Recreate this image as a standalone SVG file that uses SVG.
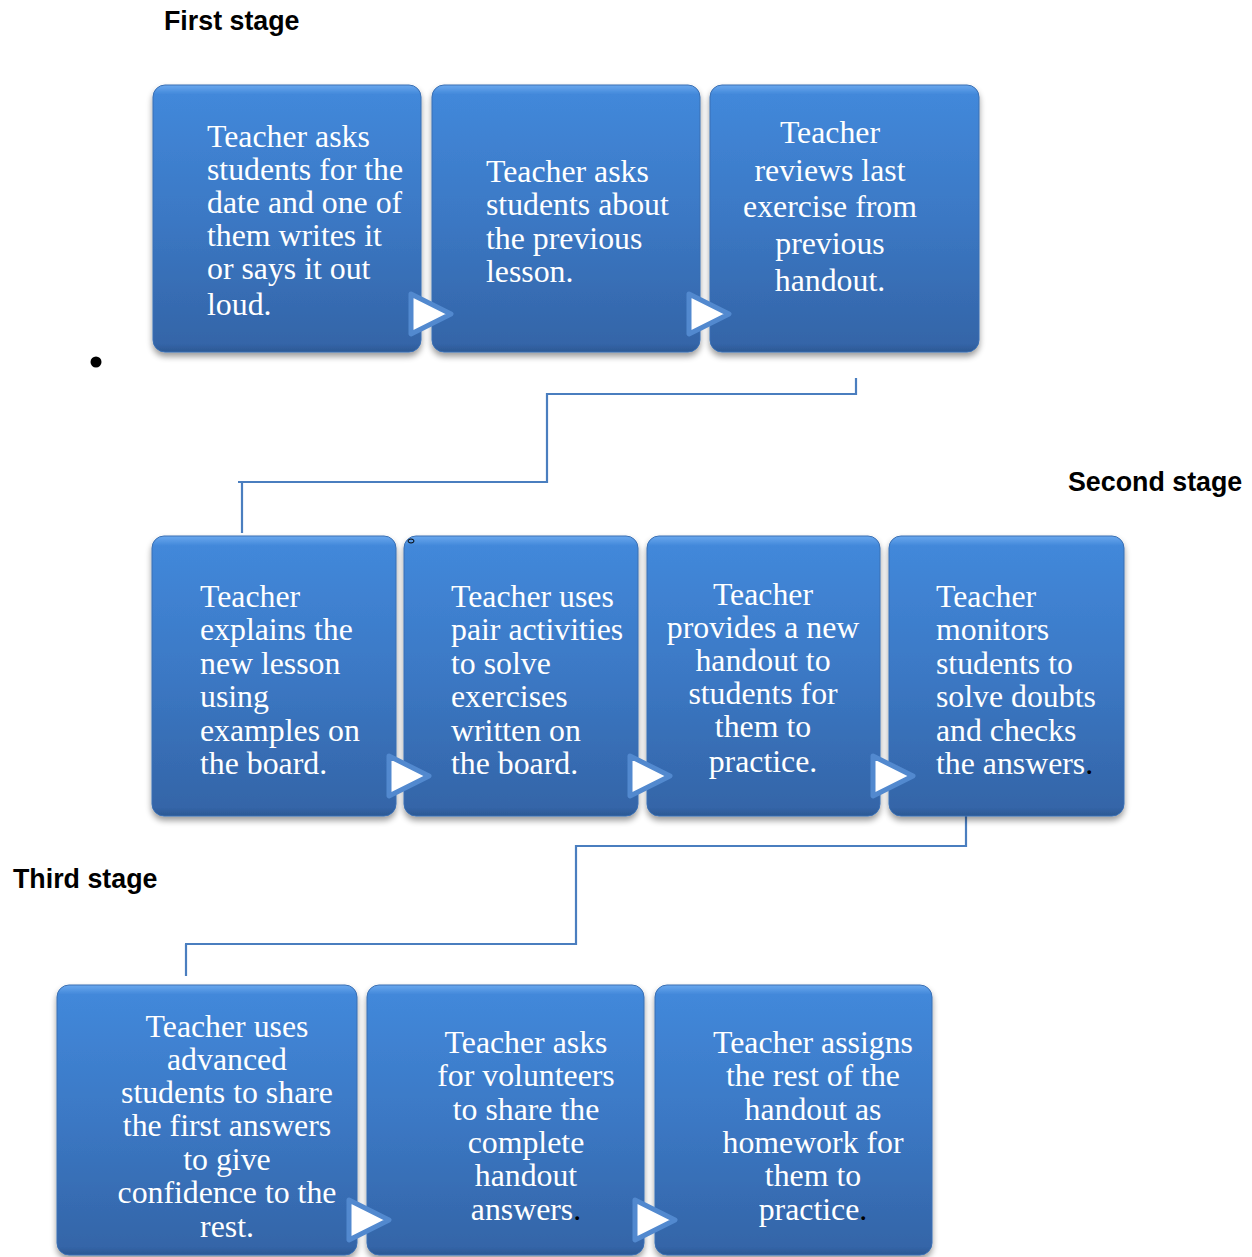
<svg xmlns="http://www.w3.org/2000/svg" width="1252" height="1257" viewBox="0 0 1252 1257">
<defs>
<linearGradient id="bg" x1="0" y1="0" x2="0" y2="1">
<stop offset="0" stop-color="#6aa8ee"/>
<stop offset="0.035" stop-color="#4288da"/>
<stop offset="0.5" stop-color="#3b78c4"/>
<stop offset="0.97" stop-color="#3465a8"/>
<stop offset="1" stop-color="#2c5893"/>
</linearGradient>
<filter id="sh" x="-10%" y="-10%" width="120%" height="125%">
<feGaussianBlur in="SourceAlpha" stdDeviation="3"/>
<feOffset dx="0" dy="4" result="b"/>
<feComponentTransfer><feFuncA type="linear" slope="0.4"/></feComponentTransfer>
<feMerge><feMergeNode/><feMergeNode in="SourceGraphic"/></feMerge>
</filter>
<path id="arr" d="M0,-20 L40,0 L0,20 Z"/>
</defs>
<style>
.box{fill:url(#bg);stroke:#3a6fb3;stroke-width:1;filter:url(#sh)}
.t{font-family:"Liberation Serif","Times New Roman",serif;font-size:31.8px;fill:#ffffff}
.c{text-anchor:middle}
.h{font-family:"Liberation Sans",Arial,sans-serif;font-size:26.8px;font-weight:bold;fill:#000000}
.arrow{fill:#ffffff;stroke:#5289cf;stroke-width:5;stroke-linejoin:round}
.conn{fill:none;stroke:#4a7ebf;stroke-width:2.2}
.k{fill:#000000}
</style>
<rect width="1252" height="1257" fill="#ffffff"/>

<text class="h" x="164" y="30">First stage</text>
<text class="h" x="1068" y="491">Second stage</text>
<text class="h" x="13" y="888">Third stage</text>
<circle cx="96" cy="362" r="5.5" fill="#000000"/>

<g id="connectors">
<polyline class="conn" points="856,378 856,394 547,394 547,482 238,482"/>
<polyline class="conn" points="242,482 242,533"/>
<polyline class="conn" points="966,813 966,846 576,846 576,944 185,944"/>
<polyline class="conn" points="186,944 186,976"/>
</g>

<g id="n1"><rect class="box" x="153" y="85" width="268" height="267" rx="12"/>
<text class="t" x="207"><tspan x="207" y="147">Teacher asks</tspan><tspan x="207" y="180">students for the</tspan><tspan x="207" y="213">date and one of</tspan><tspan x="207" y="246">them writes it</tspan><tspan x="207" y="279">or says it out</tspan><tspan x="207" y="315">loud.</tspan></text></g>
<g id="n2"><rect class="box" x="432" y="85" width="268" height="267" rx="12"/>
<text class="t"><tspan x="486" y="182">Teacher asks</tspan><tspan x="486" y="215">students about</tspan><tspan x="486" y="249">the previous</tspan><tspan x="486" y="282">lesson.</tspan></text></g>
<g id="n3"><rect class="box" x="710" y="85" width="269" height="267" rx="12"/>
<text class="t c"><tspan x="830" y="143">Teacher</tspan><tspan x="830" y="181">reviews last</tspan><tspan x="830" y="217">exercise from</tspan><tspan x="830" y="254">previous</tspan><tspan x="830" y="291">handout.</tspan></text></g>

<g id="n4"><rect class="box" x="152" y="536" width="244" height="280" rx="12"/>
<text class="t"><tspan x="200" y="607">Teacher</tspan><tspan x="200" y="640">explains the</tspan><tspan x="200" y="674">new lesson</tspan><tspan x="200" y="707">using</tspan><tspan x="200" y="741">examples on</tspan><tspan x="200" y="774">the board.</tspan></text></g>
<g id="n5"><rect class="box" x="404" y="536" width="234" height="280" rx="12"/>
<ellipse cx="411" cy="541" rx="3" ry="2" fill="none" stroke="#000000" stroke-width="1"/>
<text class="t"><tspan x="451" y="607">Teacher uses</tspan><tspan x="451" y="640">pair activities</tspan><tspan x="451" y="674">to solve</tspan><tspan x="451" y="707">exercises</tspan><tspan x="451" y="741">written on</tspan><tspan x="451" y="774">the board.</tspan></text></g>
<g id="n6"><rect class="box" x="647" y="536" width="233" height="280" rx="12"/>
<text class="t c"><tspan x="763" y="605">Teacher</tspan><tspan x="763" y="638">provides a new</tspan><tspan x="763" y="671">handout to</tspan><tspan x="763" y="704">students for</tspan><tspan x="763" y="737">them to</tspan><tspan x="763" y="772">practice.</tspan></text></g>
<g id="n7"><rect class="box" x="889" y="536" width="235" height="280" rx="12"/>
<text class="t"><tspan x="936" y="607">Teacher</tspan><tspan x="936" y="640">monitors</tspan><tspan x="936" y="674">students to</tspan><tspan x="936" y="707">solve doubts</tspan><tspan x="936" y="741">and checks</tspan><tspan x="936" y="774">the answers<tspan class="k">.</tspan></tspan></text></g>

<g id="n8"><rect class="box" x="57" y="985" width="300" height="270" rx="12"/>
<text class="t c"><tspan x="227" y="1037">Teacher uses</tspan><tspan x="227" y="1070">advanced</tspan><tspan x="227" y="1103">students to share</tspan><tspan x="227" y="1136">the first answers</tspan><tspan x="227" y="1170">to give</tspan><tspan x="227" y="1203">confidence to the</tspan><tspan x="227" y="1237">rest.</tspan></text></g>
<g id="n9"><rect class="box" x="367" y="985" width="277" height="270" rx="12"/>
<text class="t c"><tspan x="526" y="1053">Teacher asks</tspan><tspan x="526" y="1086">for volunteers</tspan><tspan x="526" y="1120">to share the</tspan><tspan x="526" y="1153">complete</tspan><tspan x="526" y="1186">handout</tspan><tspan x="526" y="1220">answers<tspan class="k">.</tspan></tspan></text></g>
<g id="n10"><rect class="box" x="655" y="985" width="277" height="270" rx="12"/>
<text class="t c"><tspan x="813" y="1053">Teacher assigns</tspan><tspan x="813" y="1086">the rest of the</tspan><tspan x="813" y="1120">handout as</tspan><tspan x="813" y="1153">homework for</tspan><tspan x="813" y="1186">them to</tspan><tspan x="813" y="1220">practice<tspan class="k">.</tspan></tspan></text></g>

<g id="arrows">
<use href="#arr" class="arrow" x="411" y="314"/>
<use href="#arr" class="arrow" x="689" y="314"/>
<use href="#arr" class="arrow" x="389" y="776"/>
<use href="#arr" class="arrow" x="630" y="776"/>
<use href="#arr" class="arrow" x="873" y="776"/>
<use href="#arr" class="arrow" x="349" y="1220"/>
<use href="#arr" class="arrow" x="635" y="1220"/>
</g>
</svg>
